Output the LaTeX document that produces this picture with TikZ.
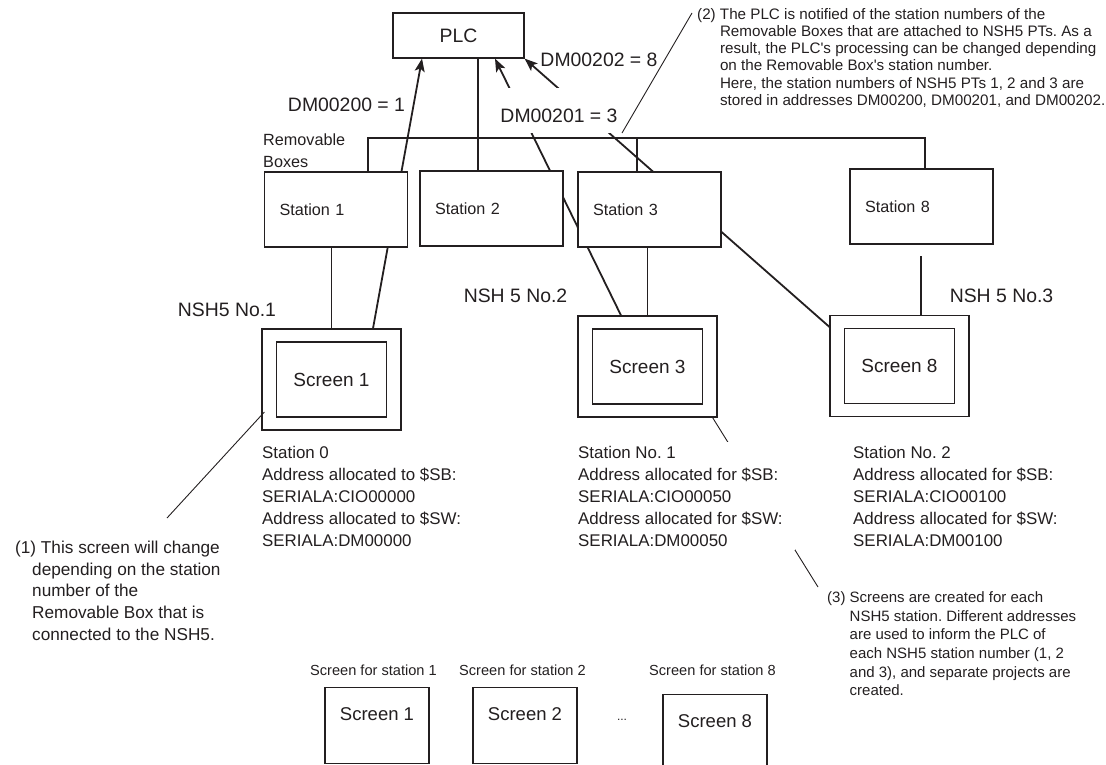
\documentclass[tikz,border=0pt]{standalone}
\usepackage{fontspec}
\setmainfont{Liberation Sans}
\usetikzlibrary{arrows.meta,backgrounds}
\definecolor{ink}{HTML}{231F20}
\frenchspacing
\newcommand{\pxfont}[2]{\fontsize{#1}{#2}\selectfont}
\tikzset{
  box/.style={draw=ink,line width=1.2pt,fill=white,inner sep=0pt},
  stationbox/.style={box,minimum height=75pt,text width=113pt,inner xsep=15pt,align=left,font=\pxfont{16.2}{20}},
  nshframe/.style={box,minimum width=139pt,minimum height=101pt},
  scrbox/.style={box,minimum width=110pt,minimum height=75pt,font=\pxfont{19}{23}},
  padbox/.style={box,minimum width=104pt,text height=32.7pt,text depth=43.3pt,font=\pxfont{18.5}{22}},
  sig/.style={ink,line width=1.8pt,-{Stealth[length=13pt,width=10pt,inset=3pt]}},
  wire/.style={ink,line width=1.2pt},
  lead/.style={ink,line width=0.9pt},
  big/.style={font=\pxfont{19.4}{23},inner sep=0pt},
  small/.style={font=\pxfont{16.9}{22},align=left,inner sep=0pt}
}

\begin{document}
\begin{tikzpicture}[x=1pt,y=-1pt,every node/.append style={text=ink}]
  \useasboundingbox (0,0) rectangle (1106,764);
  \clip (0,0) rectangle (1106,764);
  \node[box,minimum width=131pt,minimum height=45pt,font=\pxfont{19.4}{23}] (plc) at (458.5,35.5) {PLC};
  \node[stationbox] (st1) at (336,209.5) {Station 1};
  \node[stationbox] (st2) at (491.5,208.5) {Station 2};
  \node[stationbox] (st3) at (649.5,209.5) {Station 3};
  \node[stationbox] (st8) at (921.5,206.5) {Station 8};
  \node[nshframe] (nshA) at (331.5,379.5) {};
  \node[scrbox] (scrnA) at (nshA) {Screen 1};
  \node[nshframe] (nshB) at (647.5,366.5) {};
  \node[scrbox] (scrnB) at (nshB) {Screen 3};
  \node[nshframe] (nshC) at (899.5,366) {};
  \node[scrbox] (scrnC) at (nshC) {Screen 8};
  \node[big] (nshlblA) at (227,310) {NSH5 No.1};
  \node[big] (nshlblB) at (515.5,296) {NSH 5 No.2};
  \node[big] (nshlblC) at (1001.5,296) {NSH 5 No.3};
  \node[small,anchor=west,font=\pxfont{16.2}{22}] (rmv) at (263,151) {Removable\\Boxes};
  \node[big] (dmA) at (346.5,105) {DM00200 = 1};
  \node[big,fill=white,anchor=base,text height=34pt,text depth=11pt,inner xsep=2pt] (dmB) at (559,122) {DM00201 = 3};
  \node[big] (dmC) at (599,60) {DM00202 = 8};
  \node[small,anchor=west] (addrA) at (262,496) {Station 0\\Address allocated to \$SB:\\SERIALA:CIO00000\\Address allocated to \$SW:\\SERIALA:DM00000};
  \node[small,anchor=west,fill=white,inner xsep=12pt,inner ysep=4pt] (addrB) at (566,496) {Station No. 1\\Address allocated for \$SB:\\SERIALA:CIO00050\\Address allocated for \$SW:\\SERIALA:DM00050};
  \node[small,anchor=west] (addrC) at (853,496) {Station No. 2\\Address allocated for \$SB:\\SERIALA:CIO00100\\Address allocated for \$SW:\\SERIALA:DM00100};
  \node[anchor=north west,inner sep=0pt,font=\pxfont{15.2}{17.2}] (note2) at (697,7) {\begin{tabular}{@{}l@{\ }l@{}}
    (2)&The PLC is notified of the station numbers of the\\
    &Removable Boxes that are attached to NSH5 PTs. As a\\
    &result, the PLC\textquotesingle s processing can be changed depending\\
    &on the Removable Box\textquotesingle s station number.\\
    &Here, the station numbers of NSH5 PTs 1, 2 and 3 are\\
    &stored in addresses DM00200, DM00201, and DM00202.\end{tabular}};
  \node[anchor=north west,inner sep=0pt,font=\pxfont{17.2}{21.7}] (note1) at (15,538) {\begin{tabular}{@{}l@{}}
    (1) This screen will change\\
    \hspace*{17pt}depending on the station\\
    \hspace*{17pt}number of the\\
    \hspace*{17pt}Removable Box that is\\
    \hspace*{17pt}connected to the NSH5.\end{tabular}};
  \node[anchor=north west,inner sep=0pt,font=\pxfont{15}{18.6}] (note3) at (827,589.4) {\begin{tabular}{@{}l@{\ }l@{}}
    (3)&Screens are created for each\\
    &NSH5 station. Different addresses\\
    &are used to inform the PLC of\\
    &each NSH5 station number (1, 2\\
    &and 3), and separate projects are\\
    &created.\end{tabular}};
  \node[font=\pxfont{14.6}{17}] (capA) at (373.5,670) {Screen for station 1};
  \node[font=\pxfont{14.6}{17}] (capB) at (522.5,670) {Screen for station 2};
  \node[font=\pxfont{14.6}{17}] (capC) at (712.5,670) {Screen for station 8};
  \node[padbox,anchor=north] (padA) at (377,687) {Screen 1};
  \node[padbox,anchor=north] (padB) at (525,687) {Screen 2};
  \node[padbox,anchor=north] (padC) at (715,694) {Screen 8};
  \node[font=\pxfont{12}{14}] (dots) at (622,720) {...};
  \coordinate (plcbus) at ([xshift=19.5pt]plc.south);
  \coordinate (busL) at (368,138);
  \coordinate (busC) at (637,138);
  \coordinate (busR) at (925,138);
  \coordinate (tapC) at ([xshift=21.5pt]nshC.north);
  \coordinate (lead1) at (167,518);
  \coordinate (lead2) at (622,133);
  \coordinate (lead3) at (818,587);
  \begin{scope}[on background layer]
    \draw[wire] (st1.north -| busL) -- (busL) -- (busR) -- (busR |- st8.north);
    \draw[wire] (plcbus) -- (plcbus |- st2.north);
    \draw[wire] (busC) -- (busC |- st3.north);
    \draw[wire] (nshA.north) -- (nshA.north |- st1.south);
    \draw[wire] (nshB.north) -- (nshB.north |- st3.south);
    \draw[wire] (tapC) -- ++(0,-59);
    \draw[sig] ([xshift=41.5pt]nshA.north) -- ([xshift=-36.5pt]plc.south);
    \draw[sig] ([xshift=-26.5pt]nshB.north) -- ([xshift=36.5pt]plc.south);
    \draw[sig] ([yshift=-12pt]nshC.north west) -- (plc.south east);
    \draw[lead] ([xshift=-5pt]nshB.south east) -- (lead3);
  \end{scope}
  \draw[lead] ([xshift=3pt,yshift=-32.5pt]nshA.west) -- (lead1);
  \draw[lead] (lead2) -- ([xshift=-5pt,yshift=-6pt]note2.north west);
\end{tikzpicture}
\end{document}
